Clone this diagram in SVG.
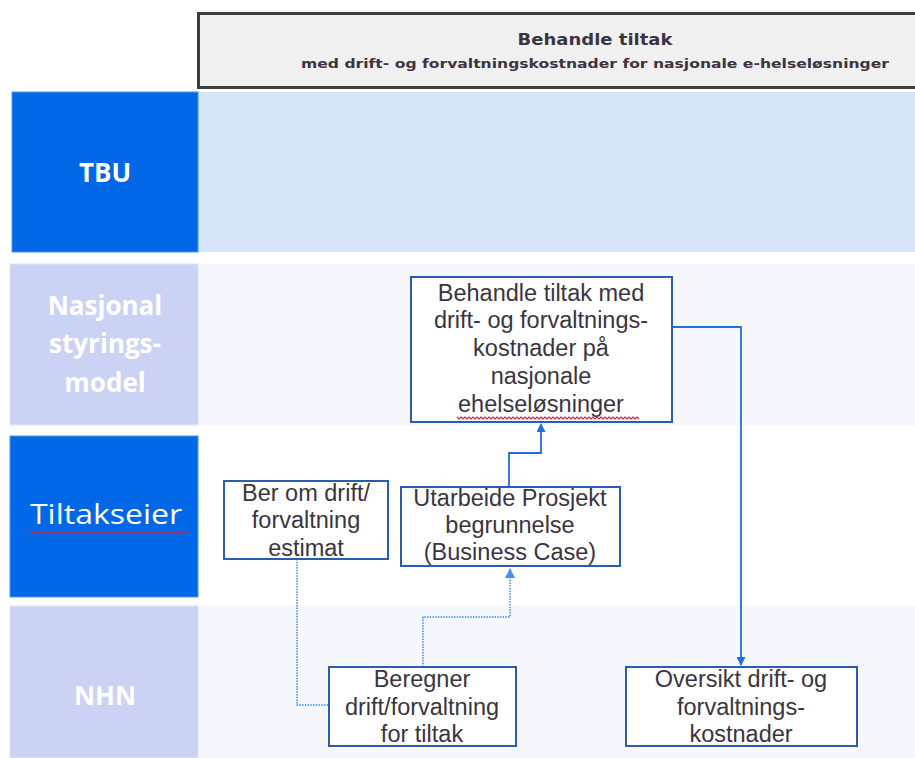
<svg xmlns="http://www.w3.org/2000/svg" width="915" height="758" viewBox="0 0 915 758">
<style>
.lblD{fill:#0068e6;stroke:#4d95ee;stroke-width:1}
.lblL{fill:#cbd3f4;stroke:#dde3f8;stroke-width:1}
.lt{font-family:"Open Sans","DejaVu Sans",sans-serif;font-size:26px;font-weight:bold;fill:#ffffff;text-anchor:middle}
.node rect{fill:#ffffff;stroke:#2b5cb0;stroke-width:2}
.nt{font-family:"Liberation Sans",Arial,sans-serif;font-size:23.5px;fill:#3a3540;text-anchor:middle}
.solid{fill:none;stroke:#1f6fe0;stroke-width:1.8}
.dot{fill:none;stroke:#6aa6f2;stroke-width:2;stroke-dasharray:1.5 1.2}
.squig{fill:none;stroke:#c0284a;stroke-width:1.2}
</style>
<defs>
<marker id="arr" viewBox="0 0 10 10" refX="9" refY="5" markerWidth="5" markerHeight="5" orient="auto-start-reverse">
<path d="M0,0 L10,5 L0,10 z" fill="#1f6fe0"/>
</marker>
<marker id="arrL" viewBox="0 0 10 10" refX="9" refY="5" markerWidth="5" markerHeight="5" orient="auto-start-reverse">
<path d="M0,0 L10,5 L0,10 z" fill="#4a8fe8"/>
</marker>
</defs>
<rect x="0" y="0" width="915" height="758" fill="#ffffff"/>

<g id="header">
<rect x="198.5" y="13.5" width="730" height="74" fill="#f0f0f0" stroke="#3c3c3c" stroke-width="3"/>
<text x="595" y="45" font-family="'DejaVu Sans',sans-serif" font-size="15px" font-weight="bold" fill="#3a3540" text-anchor="middle" textLength="155" lengthAdjust="spacingAndGlyphs">Behandle tiltak</text>
<text x="595" y="68" font-family="'DejaVu Sans',sans-serif" font-size="12.5px" font-weight="bold" fill="#3a3540" text-anchor="middle" textLength="588" lengthAdjust="spacingAndGlyphs">med drift- og forvaltningskostnader for nasjonale e-helseløsninger</text>
</g>

<g id="lane-tbu">
<rect x="198" y="92" width="717" height="160" fill="#d6e6f8"/>
<rect class="lblD" x="12" y="92" width="186" height="160"/>
<text class="lt" x="105" y="182">TBU</text>
</g>
<g id="lane-nasjonal">
<rect x="198" y="264" width="717" height="161" fill="#f6f7fd"/>
<rect class="lblL" x="10" y="264" width="188" height="161"/>
<text class="lt" x="105" y="315">Nasjonal</text>
<text class="lt" x="105" y="353">styrings-</text>
<text class="lt" x="105" y="392">model</text>
</g>
<g id="lane-tiltakseier">
<rect x="198" y="436" width="717" height="161" fill="#ffffff"/>
<rect class="lblD" x="10" y="436" width="188" height="161"/>
<text class="lt" x="106" y="524" style="font-weight:normal;font-size:28px" textLength="152" lengthAdjust="spacingAndGlyphs">Tiltakseier</text>
<path class="squig" d="M30,532 l2,2 l2,-2 l2,2 l2,-2 l2,2 l2,-2 l2,2 l2,-2 l2,2 l2,-2 l2,2 l2,-2 l2,2 l2,-2 l2,2 l2,-2 l2,2 l2,-2 l2,2 l2,-2 l2,2 l2,-2 l2,2 l2,-2 l2,2 l2,-2 l2,2 l2,-2 l2,2 l2,-2 l2,2 l2,-2 l2,2 l2,-2 l2,2 l2,-2 l2,2 l2,-2 l2,2 l2,-2 l2,2 l2,-2 l2,2 l2,-2 l2,2 l2,-2 l2,2 l2,-2 l2,2 l2,-2 l2,2 l2,-2 l2,2 l2,-2 l2,2 l2,-2 l2,2 l2,-2 l2,2 l2,-2 l2,2 l2,-2 l2,2 l2,-2 l2,2 l2,-2 l2,2 l2,-2 l2,2 l2,-2 l2,2 l2,-2 l2,2 l2,-2 l2,2 l2,-2 l2,2 l2,-2 l2,2"/>
</g>
<g id="lane-nhn">
<rect x="198" y="606" width="717" height="152" fill="#f6f7fd"/>
<rect class="lblL" x="10" y="606" width="188" height="152"/>
<text class="lt" x="105" y="705">NHN</text>
</g>

<g id="connectors">
<polyline class="solid" points="672,327 741,327 741,665" marker-end="url(#arr)"/>
<polyline class="solid" points="509,487 509,453 541,453 541,424" marker-end="url(#arr)"/>
<polyline class="dot" points="423,667 423,617 510,617 510,569" marker-end="url(#arrL)"/>
<polyline class="dot" points="297,559 297,705 329,705"/>
</g>

<g id="n-behandle" class="node">
<rect x="411" y="277" width="261" height="145"/>
<text class="nt" x="541" y="301">Behandle tiltak med</text>
<text class="nt" x="541" y="328">drift- og forvaltnings-</text>
<text class="nt" x="541" y="356">kostnader på</text>
<text class="nt" x="541" y="384">nasjonale</text>
<text class="nt" x="541" y="412">ehelseløsninger</text>
<path class="squig" d="M457,417 l2,2 l2,-2 l2,2 l2,-2 l2,2 l2,-2 l2,2 l2,-2 l2,2 l2,-2 l2,2 l2,-2 l2,2 l2,-2 l2,2 l2,-2 l2,2 l2,-2 l2,2 l2,-2 l2,2 l2,-2 l2,2 l2,-2 l2,2 l2,-2 l2,2 l2,-2 l2,2 l2,-2 l2,2 l2,-2 l2,2 l2,-2 l2,2 l2,-2 l2,2 l2,-2 l2,2 l2,-2 l2,2 l2,-2 l2,2 l2,-2 l2,2 l2,-2 l2,2 l2,-2 l2,2 l2,-2 l2,2 l2,-2 l2,2 l2,-2 l2,2 l2,-2 l2,2 l2,-2 l2,2 l2,-2 l2,2 l2,-2 l2,2 l2,-2 l2,2 l2,-2 l2,2 l2,-2 l2,2 l2,-2 l2,2 l2,-2 l2,2 l2,-2 l2,2 l2,-2 l2,2 l2,-2 l2,2 l2,-2 l2,2 l2,-2 l2,2 l2,-2 l2,2 l2,-2 l2,2 l2,-2 l2,2 l2,-2 l2,2"/>
</g>
<g id="n-berom" class="node">
<rect x="224" y="481" width="164" height="78"/>
<text class="nt" x="306" y="501">Ber om drift/</text>
<text class="nt" x="306" y="528">forvaltning</text>
<text class="nt" x="306" y="556">estimat</text>
</g>
<g id="n-utarbeide" class="node">
<rect x="401" y="487" width="219" height="79"/>
<text class="nt" x="510" y="506">Utarbeide Prosjekt</text>
<text class="nt" x="510" y="533">begrunnelse</text>
<text class="nt" x="510" y="560">(Business Case)</text>
</g>
<g id="n-beregner" class="node">
<rect x="329" y="667" width="187" height="79"/>
<text class="nt" x="422" y="687">Beregner</text>
<text class="nt" x="422" y="715">drift/forvaltning</text>
<text class="nt" x="422" y="742">for tiltak</text>
</g>
<g id="n-oversikt" class="node">
<rect x="626" y="667" width="231" height="79"/>
<text class="nt" x="741" y="687">Oversikt drift- og</text>
<text class="nt" x="741" y="715">forvaltnings-</text>
<text class="nt" x="741" y="742">kostnader</text>
</g>
</svg>
